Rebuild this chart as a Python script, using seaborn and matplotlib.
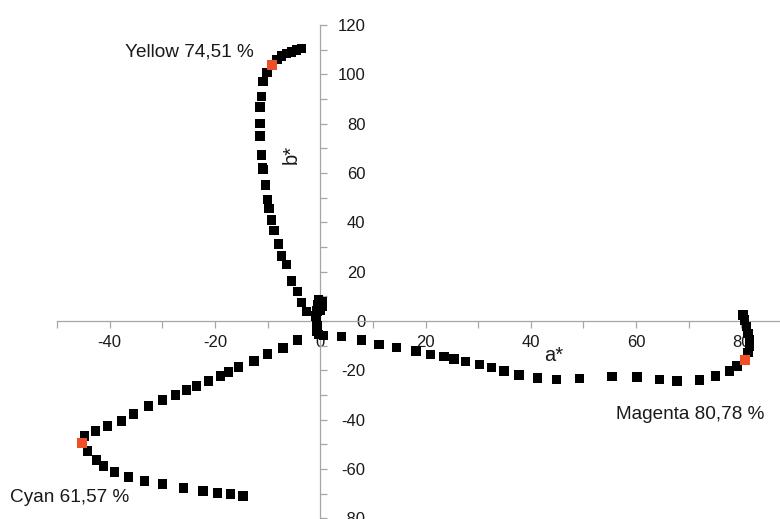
import matplotlib
matplotlib.use("Agg")
import matplotlib.pyplot as plt
import seaborn as sns
import pandas as pd
import numpy as np

# CIE a*/b* coordinates of the three ink ramps
yellow_a = [-2.6, -3.5, -4.3, -5.5, -6.4, -7.3, -7.9, -8.8, -9.3, -9.7, -10.0, -10.4,
            -10.9, -11.0, -11.2, -11.4, -11.4, -11.4, -11.2, -10.9, -10.1, -9.1,
            -8.2, -7.4, -6.4, -5.5, -4.5, -3.6]
yellow_b = [3.8, 7.4, 11.9, 16.3, 23.0, 26.4, 31.2, 36.6, 41.0, 45.7, 49.4, 55.2,
            61.5, 62.0, 67.3, 75.0, 80.2, 86.9, 91.0, 97.1, 100.7, 103.9,
            106.2, 107.5, 108.6, 109.2, 109.9, 110.6]

cyan_a = [-4.3, -7.1, -10.0, -12.6, -15.5, -17.4, -18.9, -21.2, -23.5, -25.4, -27.5,
          -30.0, -32.6, -35.5, -37.8, -40.4, -42.7, -44.8, -45.3, -44.2, -42.5,
          -41.2, -39.1, -36.4, -33.4, -30.0, -26.0, -22.3, -19.5, -17.0, -14.7]
cyan_b = [-7.7, -11.0, -13.4, -16.2, -18.7, -20.7, -22.3, -24.3, -26.4, -28.0, -30.0,
          -32.0, -34.5, -37.7, -40.6, -42.6, -44.6, -46.7, -49.5, -52.7, -56.4,
          -58.8, -61.3, -63.3, -64.9, -66.1, -67.7, -69.0, -69.8, -70.2, -71.0]

magenta_a = [4.0, 7.8, 11.2, 14.5, 18.2, 21.0, 23.5, 25.4, 27.6, 30.3, 32.5, 34.9,
             37.8, 41.3, 44.9, 49.3, 55.4, 60.2, 64.5, 67.8, 72.0, 75.1, 77.7,
             79.2, 80.6, 81.3, 81.5, 81.5, 81.3, 81.0, 80.6, 80.3]
magenta_b = [-6.4, -7.7, -9.5, -10.8, -12.2, -13.5, -14.5, -15.4, -16.5, -17.6,
             -18.9, -20.2, -21.9, -23.2, -23.7, -23.4, -22.6, -22.8, -23.7, -24.3,
             -23.9, -22.3, -20.3, -18.3, -15.8, -12.8, -10.4, -7.7, -5.0, -2.3,
             0.4, 2.4]

# near-neutral points at low coverage
paper_a = [-0.3, 0.3, 0.3, -0.5, 0.0, -0.6, -0.8, -0.7, -0.6, -0.6, -0.3, 0.6]
paper_b = [8.5, 8.0, 6.0, 6.5, 4.5, 4.0, 2.0, 0.0, -2.0, -4.0, -5.5, -6.0]

# marked coverage points
marked_a = [-9.1, -45.3, 80.6]
marked_b = [103.9, -49.5, -15.8]
marked_labels = ["Yellow 74,51 %", "Cyan 61,57 %", "Magenta 80,78 %"]
label_pos_a = [-37.1, -59.0, 56.2]
label_pos_b = [109.1, -71.8, -38.1]

x_ticks = list(range(-50, 91, 10))
y_ticks = list(range(-80, 121, 10))

sns.set_style("white")
plt.rcParams["font.family"] = ["Liberation Sans", "DejaVu Sans"]

frames = []
for name, a, b in [("Yellow", yellow_a, yellow_b), ("Cyan", cyan_a, cyan_b),
                   ("Magenta", magenta_a, magenta_b), ("Paper", paper_a, paper_b)]:
    frames.append(pd.DataFrame({"a": a, "b": b, "ink": name}))
df = pd.concat(frames, ignore_index=True)
marked = pd.DataFrame({"a": marked_a, "b": marked_b})

fig = plt.figure(figsize=(7.8, 5.19), dpi=100)
ax = fig.add_axes([57 / 780, 0.8 / 519, (794 - 57) / 780, (518.2 - 25.2) / 519])

sns.scatterplot(data=df, x="a", y="b", hue="ink",
                palette={"Yellow": "black", "Cyan": "black", "Magenta": "black", "Paper": "black"},
                marker="s", s=46, linewidth=0, legend=False, ax=ax, zorder=3)
sns.scatterplot(data=marked, x="a", y="b", color="#ef4f26", marker="s", s=46,
                linewidth=0, legend=False, ax=ax, zorder=4)

ax.set_xlim(-50, 90)
ax.set_ylim(-80, 120)

# axes crossing at the origin
axis_color = "#a6a6a6"
ax.spines["left"].set_visible(False)
ax.spines["top"].set_visible(False)
ax.spines["right"].set_position(("data", 0))
ax.spines["bottom"].set_position(("data", 0))
for s in ("right", "bottom"):
    ax.spines[s].set_color(axis_color)
    ax.spines[s].set_linewidth(0.9)
    ax.spines[s].set_zorder(2)

ax.yaxis.set_ticks_position("right")
ax.xaxis.set_ticks_position("bottom")
ax.set_xticks(x_ticks)
ax.set_xticklabels([str(t) if t % 20 == 0 and t > -50 else "" for t in x_ticks])
ax.set_yticks(y_ticks)
ax.set_yticklabels([str(t) if t % 20 == 0 else "" for t in y_ticks])

ax.tick_params(axis="x", direction="out", length=5, width=0.9, color=axis_color,
               labelsize=12, labelcolor="#1a1a1a", pad=5)
ax.tick_params(axis="y", direction="out", length=5, width=0.9, color=axis_color,
               labelsize=12, labelcolor="#1a1a1a", pad=27.5)
for lbl in ax.get_yticklabels():
    lbl.set_horizontalalignment("right")

ax.set_xlabel("")
ax.set_ylabel("")
ax.text(44.3, -13.8, "a*", fontsize=14.5, ha="center", va="center", color="#1a1a1a")
ax.text(-5.5, 67.7, "b*", fontsize=14.5, ha="center", va="center", rotation=90,
        color="#1a1a1a")

for txt, ta, tb in zip(marked_labels, label_pos_a, label_pos_b):
    ax.text(ta, tb, txt, fontsize=13.7, ha="left", va="center", color="#1a1a1a",
            clip_on=False)

fig.savefig("out.png", dpi=100)
